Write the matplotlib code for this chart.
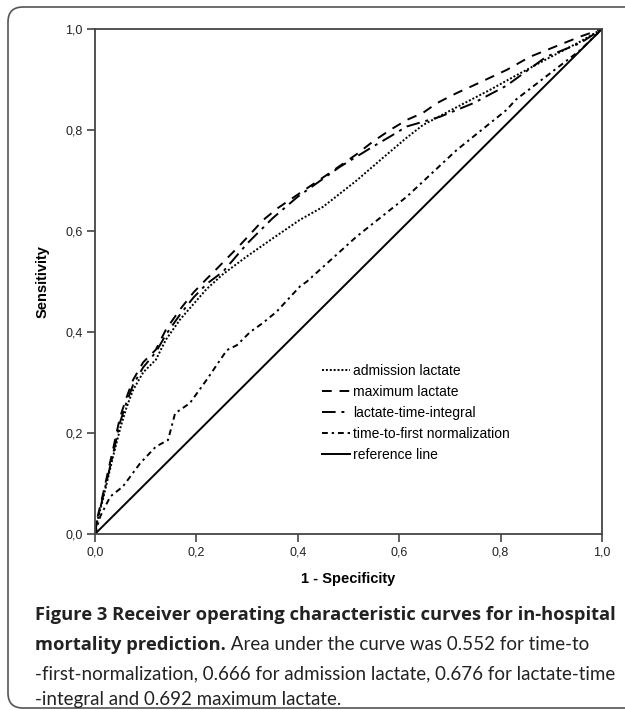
import numpy as np
import matplotlib
matplotlib.use('Agg')
import matplotlib.pyplot as plt
from matplotlib.patches import FancyBboxPatch
from matplotlib.ticker import FuncFormatter

# ROC curve points (1 - specificity, sensitivity)
adm_x = [0, 0.003, 0.016, 0.036, 0.05, 0.062, 0.075, 0.095, 0.12, 0.14, 0.168, 0.194,
         0.22, 0.253, 0.30, 0.35, 0.404, 0.45, 0.516, 0.568, 0.615, 0.647, 0.713, 0.78,
         0.825, 0.89, 0.957, 1.0]
adm_y = [0, 0.02, 0.07, 0.155, 0.21, 0.25, 0.285, 0.32, 0.345, 0.385, 0.425, 0.455,
         0.485, 0.515, 0.55, 0.585, 0.622, 0.648, 0.70, 0.745, 0.785, 0.81, 0.845, 0.88,
         0.905, 0.94, 0.975, 1.0]

max_x = [0, 0.003, 0.016, 0.036, 0.049, 0.062, 0.075, 0.095, 0.12, 0.14, 0.168, 0.194,
         0.22, 0.24, 0.286, 0.332, 0.36, 0.404, 0.463, 0.516, 0.548, 0.582, 0.615, 0.647,
         0.674, 0.713, 0.746, 0.78, 0.812, 0.858, 0.90, 0.957, 1.0]
max_y = [0, 0.025, 0.08, 0.17, 0.23, 0.27, 0.305, 0.34, 0.365, 0.405, 0.445, 0.478,
         0.505, 0.525, 0.572, 0.622, 0.645, 0.675, 0.715, 0.752, 0.777, 0.80, 0.82, 0.834,
         0.853, 0.873, 0.888, 0.904, 0.919, 0.945, 0.962, 0.985, 1.0]

lti_x = [0, 0.003, 0.016, 0.036, 0.049, 0.062, 0.075, 0.095, 0.12, 0.14, 0.168, 0.194,
         0.22, 0.253, 0.30, 0.35, 0.40, 0.483, 0.548, 0.582, 0.615, 0.68, 0.746, 0.812,
         0.89, 0.957, 1.0]
lti_y = [0, 0.02, 0.075, 0.16, 0.22, 0.26, 0.295, 0.33, 0.36, 0.395, 0.435, 0.468,
         0.495, 0.52, 0.575, 0.625, 0.668, 0.727, 0.767, 0.787, 0.807, 0.826, 0.853, 0.888,
         0.945, 0.972, 1.0]

ttn_x = [0, 0.01, 0.03, 0.055, 0.089, 0.12, 0.144, 0.158, 0.187, 0.22, 0.26, 0.28, 0.306,
         0.33, 0.358, 0.404, 0.418, 0.516, 0.615, 0.713, 0.812, 0.83, 0.957, 1.0]
ttn_y = [0, 0.034, 0.074, 0.094, 0.14, 0.173, 0.186, 0.239, 0.259, 0.305, 0.364, 0.374,
         0.40, 0.417, 0.44, 0.49, 0.50, 0.589, 0.668, 0.76, 0.84, 0.86, 0.958, 1.0]

ref_x = [0, 1]
ref_y = [0, 1]

labels = ['admission lactate', 'maximum lactate', 'lactate-time-integral',
          'time-to-first normalization', 'reference line']
ticks = [0, 0.2, 0.4, 0.6, 0.8, 1.0]

fig = plt.figure(figsize=(6.25, 7.1), dpi=100)
ax = fig.add_axes([95/625, (710-534)/710, 507/625, 505/710])

lw = 1.4
ax.plot(adm_x, adm_y, color='black', lw=lw, linestyle=(0, (1, 1)), label=labels[0])
ax.plot(max_x, max_y, color='black', lw=lw, linestyle=(0, (5, 4)), label=labels[1])
ax.plot(lti_x, lti_y, color='black', lw=lw, linestyle=(0, (7, 3, 1.5, 3)), label=labels[2])
ax.plot(ttn_x, ttn_y, color='black', lw=lw, linestyle=(0, (3, 2, 1.2, 2)), label=labels[3])
ax.plot(ref_x, ref_y, color='black', lw=lw, label=labels[4])

ax.set_xlim(0, 1)
ax.set_ylim(0, 1)
ax.set_xticks(ticks)
ax.set_yticks(ticks)
fmt = FuncFormatter(lambda v, p: ('%.1f' % v).replace('.', ','))
ax.xaxis.set_major_formatter(fmt)
ax.yaxis.set_major_formatter(fmt)
ax.tick_params(length=6, width=1.2, color='#444444', labelsize=9, pad=3,
               labelcolor='#222222')
for lab in ax.get_xticklabels() + ax.get_yticklabels():
    lab.set_family('Liberation Sans')
for s in ax.spines.values():
    s.set_color('#444444')
    s.set_linewidth(1.3)

ax.set_xlabel('1 - Specificity', fontsize=10.5, fontweight='bold', family='Liberation Sans')
ax.set_ylabel('Sensitivity', fontsize=10.5, fontweight='bold', family='Liberation Sans')
ax.xaxis.set_label_coords(0.5, -0.075)
ax.yaxis.set_label_coords(-0.089, 0.5)

ax.legend(loc='upper left', bbox_to_anchor=(0.448, 0.337), frameon=False,
          prop={'family': 'Liberation Sans', 'size': 10}, handlelength=2.0,
          handletextpad=0.25, labelspacing=0.5, borderpad=0, borderaxespad=0)

# rounded frame round the whole figure
box = FancyBboxPatch((0.08, 0.02), 6.4, 7.01, boxstyle='round,pad=0,rounding_size=0.15',
                     transform=fig.dpi_scale_trans, fill=False, edgecolor='#555555',
                     lw=1.2)
fig.patches.append(box)

# caption
bold_font = 'Open Sans'
reg_font = 'Lato'
cs = 13.2
cx = 35 / 625
right_px = 616
line_y = [1 - 615/710, 1 - 645/710, 1 - 674/710, 1 - 700/710]
r = fig.canvas.get_renderer()

# size the regular text so the longest line ends where the reference's does
line3 = '-first-normalization, 0.666 for admission lactate, 0.676 for lactate-time'
probe = fig.text(cx, line_y[2], line3, fontsize=13, family=reg_font, va='center',
                 color='#222222')
w = probe.get_window_extent(renderer=r).width
rs = 13 * (right_px - cx * 625) / w
probe.set_fontsize(rs)

fig.text(cx, line_y[0], 'Figure 3 Receiver operating characteristic curves for in-hospital',
         fontsize=cs, fontweight='bold', family=bold_font, va='center', color='#222222')
t = fig.text(cx, line_y[1], 'mortality prediction.', fontsize=cs, fontweight='bold',
             family=bold_font, va='center', color='#222222')
bb = t.get_window_extent(renderer=r)
fig.text(bb.x1 / fig.bbox.width, line_y[1], ' Area under the curve was 0.552 for time-to',
         fontsize=rs, family=reg_font, va='center', color='#222222')
fig.text(cx, line_y[3], '-integral and 0.692 maximum lactate.',
         fontsize=rs, family=reg_font, va='center', color='#222222')

fig.savefig('out.png', dpi=100)
